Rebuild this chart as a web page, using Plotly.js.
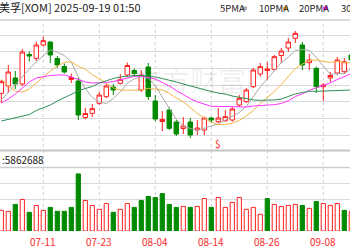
<!DOCTYPE html>
<html><head><meta charset="utf-8">
<script src="https://cdn.plot.ly/plotly-3.0.1.min.js"></script>
<style>html,body{margin:0;padding:0;background:#fff;overflow:hidden}#chart{width:350px;height:250px}</style>
</head><body><div id="chart"></div>
<script>
const dates = ['2025-07-02','2025-07-03','2025-07-07','2025-07-08','2025-07-09','2025-07-10','2025-07-11','2025-07-14','2025-07-15','2025-07-16','2025-07-17','2025-07-18','2025-07-21','2025-07-22','2025-07-23','2025-07-24','2025-07-25','2025-07-28','2025-07-29','2025-07-30','2025-07-31','2025-08-01','2025-08-04','2025-08-05','2025-08-06','2025-08-07','2025-08-08','2025-08-11','2025-08-12','2025-08-13','2025-08-14','2025-08-15','2025-08-18','2025-08-19','2025-08-20','2025-08-21','2025-08-22','2025-08-25','2025-08-26','2025-08-27','2025-08-28','2025-08-29','2025-09-02','2025-09-03','2025-09-04','2025-09-05','2025-09-08','2025-09-09','2025-09-10','2025-09-11','2025-09-12'];
const openP  = [109.00,109.88,110.84,110.12,113.66,113.20,114.80,115.16,113.18,112.22,110.66,110.48,106.10,106.60,107.80,108.60,109.76,110.20,111.20,111.74,109.40,112.16,108.08,105.62,107.00,105.56,104.78,105.56,104.60,104.60,106.04,105.60,105.72,105.80,107.60,108.00,109.80,111.32,111.74,111.88,113.54,114.44,115.60,114.80,112.68,112.00,109.80,110.84,111.44,111.60,113.60];
const highP  = [110.60,112.40,111.68,114.32,114.02,115.20,115.80,115.22,113.48,112.58,111.38,110.90,107.24,107.72,109.16,110.18,110.12,111.32,112.70,112.00,111.80,112.64,108.80,106.88,107.36,105.80,106.16,106.04,105.80,106.20,106.16,107.24,107.00,107.36,108.80,109.64,112.04,112.64,112.76,113.60,114.44,115.64,116.48,115.16,113.72,112.20,110.24,111.56,113.36,113.24,113.96];
const lowP   = [107.84,109.04,109.52,109.88,112.82,112.88,114.62,112.64,112.04,111.38,110.24,105.80,105.86,106.16,107.60,108.44,108.80,110.06,110.96,110.96,109.16,108.20,105.68,104.48,104.60,103.88,104.12,103.64,104.00,104.00,105.44,105.44,105.56,105.60,107.40,107.84,109.64,111.00,110.60,111.68,112.64,113.96,115.04,111.80,111.80,109.04,108.08,110.36,111.20,111.32,112.76];
const closeP = [110.40,111.56,110.12,113.96,113.48,114.80,115.32,113.60,112.40,111.56,110.90,106.40,106.58,107.16,108.80,109.88,109.40,110.68,112.34,111.38,111.20,108.62,105.92,105.86,104.80,104.12,105.08,104.00,104.84,106.04,105.80,106.04,106.20,107.12,108.40,109.40,111.80,112.20,111.92,113.40,114.08,115.16,116.20,112.40,113.00,109.80,110.00,111.14,113.00,112.80,113.00];
const volumeM = [10.5,10,13.5,16,9.5,13,10.5,12,10,10,12,29,15.5,13,11,14,9.5,11,14,12,15.5,17.5,17,19,13.5,12,12.5,12,12.5,16.5,12,17,12,14.5,17,11,12,8.5,16.5,13.5,12.5,13,13.5,13,11.5,15,14,13,14,10.5,10];
const ma5  = [108.20,109.16,110.00,111.08,111.91,112.78,113.54,114.24,113.92,113.54,112.76,110.97,109.57,108.52,107.97,107.77,108.37,109.18,110.22,110.73,111.00,110.84,109.89,108.60,107.28,105.86,105.15,104.77,104.56,104.82,105.15,105.34,105.79,106.24,106.71,107.43,108.58,109.78,110.74,111.74,112.68,113.35,114.15,114.25,114.16,113.31,112.28,111.27,111.39,111.34,111.99];
const ma10 = [110.72,109.88,109.28,109.16,109.52,110.24,110.96,111.68,112.28,112.72,112.77,112.26,111.90,111.22,110.76,110.26,109.66,109.38,109.36,109.35,109.38,109.60,109.53,109.41,109.00,108.43,108.00,107.34,106.58,106.05,105.51,105.25,105.27,105.40,105.76,106.29,106.96,107.78,108.49,109.23,110.06,110.97,111.97,112.50,112.95,113.00,112.82,112.71,112.82,112.76,112.65];
const ma20 = [107.84,108.32,108.92,109.64,110.36,110.84,111.02,111.14,111.20,111.20,110.96,110.66,110.36,110.24,110.24,110.30,110.42,110.60,110.84,111.03,111.08,110.92,110.72,110.31,109.88,109.34,108.84,108.36,107.97,107.70,107.44,107.43,107.41,107.41,107.38,107.36,107.48,107.55,107.54,107.64,107.78,108.10,108.62,108.94,109.36,109.64,109.89,110.25,110.66,111.00,111.36];
const ma30 = [105.68,105.86,106.04,106.22,106.46,106.94,107.24,107.60,108.08,108.50,108.92,109.28,109.58,109.82,110.24,110.54,110.78,110.96,111.08,111.14,111.14,111.08,110.96,110.78,110.60,110.36,110.12,109.88,109.64,109.38,109.22,109.04,108.91,108.68,108.51,108.33,108.21,108.16,108.15,108.21,108.32,108.61,108.93,109.10,109.24,109.24,109.26,109.28,109.29,109.34,109.40];
const tickDates = ['2025-07-11','2025-07-23','2025-08-04','2025-08-14','2025-08-26','2025-09-08'];
const tickText = tickDates.map(d => d.slice(5));
const dividendDate = '2025-08-15';
const titleText = '美孚[XOM] 2025-09-19 01:50';
const volText = ':5862688';
const maNames = ['5PMA','10PMA','20PMA','30PMA'];

const W = 350, H = 250;
const px = v => v / W, py = v => 1 - v / H;
const RED = '#ff2020', GREEN = '#008a00', TICKRED = '#ff2a2a';
const maColors = ['#a9a9a9', '#f5b445', '#ff33ff', '#2f8f58'];

const volUp = closeP.map((c, i) => i === 0 ? c >= openP[0] : c >= closeP[i - 1]);

const traces = [
  {type:'candlestick', x:dates, open:openP, high:highP, low:lowP, close:closeP, xaxis:'x', yaxis:'y',
   increasing:{line:{color:RED, width:1}, fillcolor:'#ffffff'},
   decreasing:{line:{color:GREEN, width:1}, fillcolor:GREEN},
   whiskerwidth:0, hoverinfo:'skip'},
  ...[ma5, ma10, ma20, ma30].map((m, k) => ({type:'scatter', mode:'lines', x:dates, y:m, xaxis:'x', yaxis:'y',
   line:{color:maColors[k], width:1}, hoverinfo:'skip'})),
  {type:'bar', x:dates, y:volumeM, xaxis:'x', yaxis:'y2', width:0.6,
   marker:{color:volUp.map(u => u ? '#ffffff' : GREEN), line:{color:volUp.map(u => u ? RED : GREEN), width:1}},
   hoverinfo:'skip'}
];

const shapes = [];
tickDates.forEach(d => shapes.push({type:'line', xref:'x', yref:'paper', x0:d, x1:d, y0:py(231), y1:py(21),
  line:{color:'#cfcfcf', width:1, dash:'3px,3px'}, layer:'below'}));
shapes.push({type:'line', xref:'paper', yref:'paper', x0:0, x1:1, y0:py(20), y1:py(20), line:{color:'#b4b4b4', width:1}});
shapes.push({type:'line', xref:'paper', yref:'paper', x0:0, x1:1, y0:py(150.5), y1:py(150.5), line:{color:'#c4c4c4', width:2}});
shapes.push({type:'line', xref:'paper', yref:'paper', x0:0, x1:1, y0:py(167.5), y1:py(167.5), line:{color:'#cdcdcd', width:1.5}});
const legendX = [218, 257, 297, 339];
const markX = [242, 283, 323, 366];
markX.forEach((m, k) => shapes.push({type:'rect', xref:'paper', yref:'paper', x0:px(m), x1:px(m + 5), y0:py(10), y1:py(6.5),
  fillcolor:maColors[k], line:{width:0}}));

const font = 'Noto Sans CJK SC, DejaVu Sans, sans-serif';
const annotations = [
  {text:'东方财富', xref:'paper', yref:'paper', x:px(190), y:py(80), showarrow:false,
   font:{family:font, size:28, color:'rgba(0,0,0,0.07)'}, xanchor:'center', yanchor:'middle'},
  {text:titleText, xref:'paper', yref:'paper', x:px(-3), y:py(7), xanchor:'left', yanchor:'middle', showarrow:false,
   font:{family:font, size:11, color:'#222'}},
  {text:volText, xref:'paper', yref:'paper', x:px(0), y:py(159), xanchor:'left', yanchor:'middle', showarrow:false,
   font:{family:font, size:10, color:'#222'}},
  {text:'$', xref:'x', yref:'paper', x:dividendDate, y:py(143), xanchor:'center', yanchor:'middle', showarrow:false,
   font:{family:font, size:10, color:RED}},
  ...tickDates.map((d, k) => ({text:tickText[k], xref:'x', yref:'paper', x:d, y:py(241), xanchor:'center', yanchor:'middle',
   showarrow:false, font:{family:font, size:10, color:TICKRED}})),
  ...maNames.map((n, k) => ({text:n, xref:'paper', yref:'paper', x:px(legendX[k]), y:py(8), xanchor:'left', yanchor:'middle',
   showarrow:false, font:{family:font, size:9.5, color:'#222'}}))
];

const layout = {
  width:W, height:H, margin:{l:0, r:0, t:0, b:0}, paper_bgcolor:'#fff', plot_bgcolor:'#fff',
  showlegend:false, hovermode:false, dragmode:false, boxgap:0.2, boxgroupgap:0.2, bargap:0,
  xaxis:{type:'category', range:[-0.186, 49.814], anchor:'y2', showticklabels:false,
    showgrid:false, zeroline:false, showline:false, ticks:'', rangeslider:{visible:false}, fixedrange:true},
  yaxis:{domain:[py(150), py(20)], range:[102.2, 117.8], tick0:0, dtick:2, showticklabels:false, showgrid:true,
    gridcolor:'#dadada', gridwidth:1, zeroline:false, showline:false, ticks:'', fixedrange:true},
  yaxis2:{domain:[py(231), py(168)], range:[0, 32], tick0:0, dtick:8, showticklabels:false, showgrid:true,
    gridcolor:'#dadada', gridwidth:1, zeroline:false, showline:false, ticks:'', fixedrange:true},
  shapes, annotations
};
Plotly.newPlot('chart', traces, layout, {staticPlot:true, displayModeBar:false});
</script></body></html>
